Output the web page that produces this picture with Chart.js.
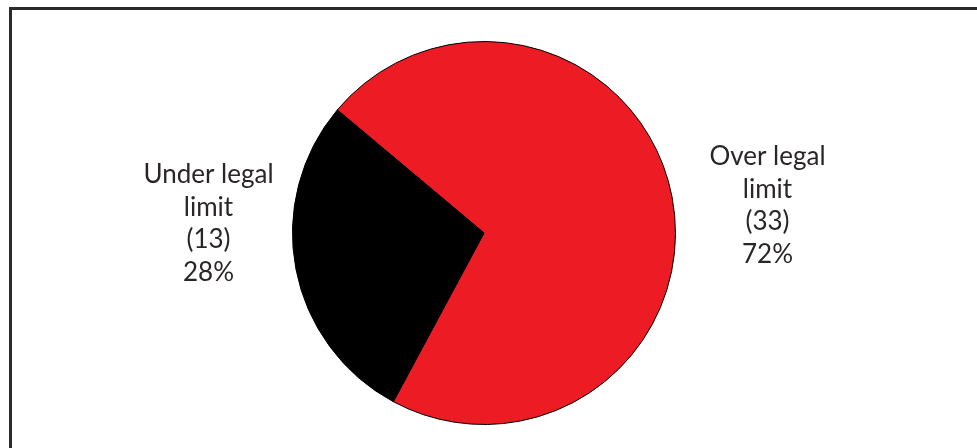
<!DOCTYPE html>
<html>
<head>
<meta charset="utf-8">
<script src="https://cdn.jsdelivr.net/npm/chart.js@4/dist/chart.umd.min.js"></script>
<style>
  html, body { margin: 0; padding: 0; background: #fff; }
  #wrap { position: relative; width: 977px; height: 448px; overflow: hidden; }
  #frame {
    position: absolute; left: 9px; top: 7px; width: 1000px; height: 500px;
    border-top: 3px solid #2b2b2b; border-left: 3px solid #2b2b2b;
  }
  canvas { position: absolute; left: 0; top: 0; }
</style>
</head>
<body>
<div id="wrap">
  <div id="frame"></div>
  <canvas id="pie" width="977" height="448"></canvas>
</div>
<script>
// drivers tested, split by result
const categories = ['Over legal limit', 'Under legal limit'];
const categoryLines = [['Over legal', 'limit'], ['Under legal', 'limit']];
const counts = [33, 13];
const sliceColors = ['#ED1C24', '#000000'];

const total = counts.reduce((a, b) => a + b, 0);

// writes "name / (count) / pct%" beside each slice
const sideLabels = {
  id: 'sideLabels',
  afterDraw(chart) {
    const ctx = chart.ctx;
    const arcs = chart.getDatasetMeta(0).data;
    ctx.save();
    ctx.font = '26px Lato, "Open Sans", sans-serif';
    ctx.fillStyle = '#2a2627';
    ctx.textAlign = 'center';
    ctx.textBaseline = 'alphabetic';
    arcs.forEach((arc, i) => {
      const mid = (arc.startAngle + arc.endAngle) / 2;
      const right = Math.cos(mid) > 0;
      const x = arc.x + (right ? arc.outerRadius + 92 : -(arc.outerRadius + 84));
      let y = arc.y + (right ? -68 : -50);
      const lines = categoryLines[i].concat([
        '(' + counts[i] + ')',
        Math.round(counts[i] / total * 100) + '%'
      ]);
      lines.forEach(line => {
        ctx.fillText(line, x, y);
        y += 32.5;
      });
    });
    ctx.restore();
  }
};

new Chart(document.getElementById('pie'), {
  type: 'pie',
  data: {
    labels: categories,
    datasets: [{
      data: counts,
      backgroundColor: sliceColors,
      borderColor: '#000000',
      borderWidth: 1
    }]
  },
  options: {
    responsive: false,
    animation: false,
    rotation: -50,
    layout: { padding: { left: 0, right: 9, top: 41, bottom: 23 } },
    plugins: {
      legend: { display: false },
      tooltip: { enabled: false }
    }
  },
  plugins: [sideLabels]
});
</script>
</body>
</html>
